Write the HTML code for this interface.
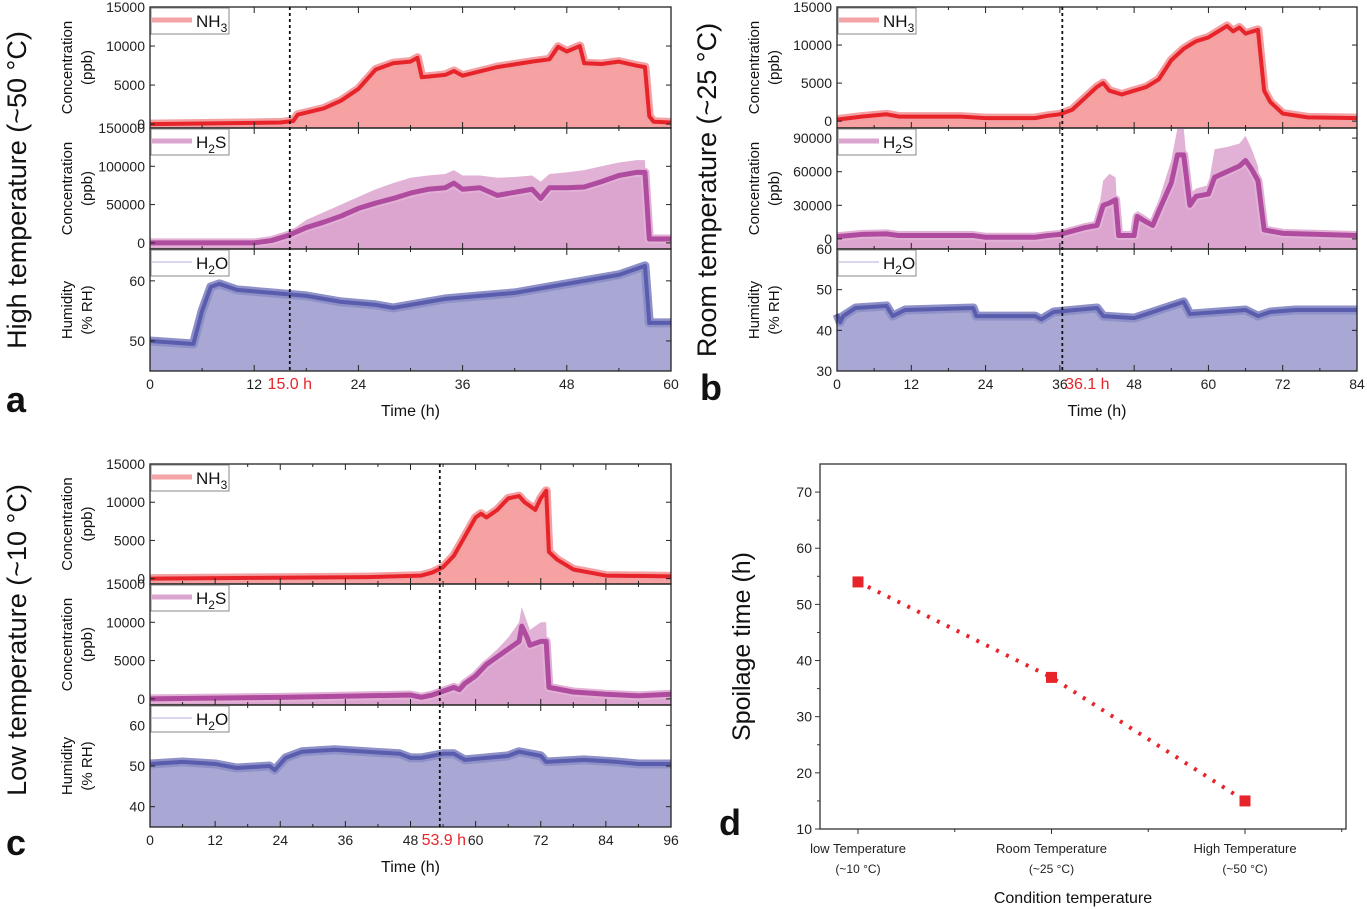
<!DOCTYPE html>
<html><head><meta charset="utf-8">
<style>
body{margin:0;background:#fff;}
svg{display:block;font-family:"Liberation Sans",sans-serif;}
</style></head>
<body>
<svg id="fig" width="1367" height="909" viewBox="0 0 1367 909" xmlns="http://www.w3.org/2000/svg"></svg>
<script>
// ---------- Panel a data (High temperature) ----------
const tA   = [0,15,16.5,17,20,22,24,26,28,30,30.8,31.3,34,35,36,40,44,46,47,48,49.5,50,52,54,56,57,57.5,58,60];
const nh3A = [0,200,400,1200,2000,3000,4500,7000,7800,8000,8500,6000,6300,6800,6200,7300,8000,8300,9900,9300,10000,7800,7700,8000,7500,7300,1000,300,200];
const tA2    = [0,12,14,16,18,20,22,24,26,28,30,32,34,35,36,38,40,42,44,45,46,48,50,52,54,56,57,57.5,60];
const h2sA   = [0,0,3000,10000,20000,27000,35000,45000,52000,58000,65000,70000,72000,78000,70000,72000,62000,66000,70000,58000,72000,72000,73000,80000,88000,92000,92000,5000,5000];
const h2sAUp = [0,0,4000,14000,30000,40000,50000,60000,70000,78000,85000,88000,90000,95000,88000,88000,85000,86000,88000,80000,90000,92000,95000,100000,105000,108000,108000,5000,5000];
const tA3  = [0,5,6,7,8,10,14,18,22,26,28,30,34,38,42,46,50,54,56,57,57.5,60];
const h2oA = [50,49.5,55,59,59.5,58.5,58,57.5,56.5,56,55.5,56,57,57.5,58,59,60,61,62,62.5,53,53];
// ---------- Panel b data (Room temperature) ----------
const tB   = [0,4,8,10,20,24,32,34,36,38,40,42,43,44,46,48,50,52,54,56,58,60,62,63,64,65,66,68,68.5,69,70,72,76,84];
const nh3B = [200,600,900,600,600,400,400,700,900,1500,3000,4500,5000,4000,3500,4000,4500,5500,8000,9500,10500,11000,12000,12500,11800,12300,11500,12000,8000,4000,2500,1000,500,400];
const tB2    = [0,4,8,10,22,24,32,34,36,38,40,42,43,44,45,45.5,48,48.5,50,51,52,54,55,56,57,58,60,61,63,65,66,67,68,69,72,84];
const h2sB   = [2000,4000,4500,3000,3000,1500,1500,3000,4000,7000,10000,12000,30000,32000,35000,3000,3000,20000,15000,12000,25000,50000,75000,75000,30000,38000,40000,55000,60000,65000,70000,62000,52000,8000,5000,3000];
const h2sBUp = [2000,4000,4500,3000,3000,1500,1500,3000,4000,8000,12000,15000,52000,58000,55000,3000,3000,25000,20000,15000,35000,70000,100000,100000,40000,45000,48000,80000,82000,85000,92000,80000,65000,8000,5000,3000];
const tB3  = [0,0.5,1,3,8,9,11,22,22.5,32,33,35,42,43,48,52,56,57,66,68,70,74,84];
const h2oB = [44,42,43.5,45.5,46,43.5,45,45.5,43.5,43.5,42.7,44.5,45.5,43.5,43,45,47,44,45,43.5,44.5,45,45];
// ---------- Panel c data (Low temperature) ----------
const tC   = [0,20,40,50,52,54,56,58,60,61,62,64,66,68,69,70,71,72,73,73.5,75,78,84,96];
const nh3C = [0,100,200,400,800,1500,3000,5500,8000,8500,8000,9000,10500,10800,10000,9500,9000,10500,11500,3500,2500,1200,400,300];
const tC2    = [0,24,48,50,52,54,56,57,58,60,62,64,66,68,68.5,69.5,70,72,73,73.5,78,84,90,96];
const h2sC   = [0,200,500,200,500,1000,1500,1200,2000,3000,4500,5500,6500,7500,9500,8000,7000,7500,7500,1500,900,600,400,600];
const h2sCUp = [0,200,500,200,500,1000,1600,1400,2300,3500,5200,6500,8000,10000,12000,10000,9000,10000,10000,1500,900,600,400,600];
const tC3  = [0,6,12,16,22,23,25,28,34,40,46,48,50,54,56,58,62,66,68,72,73,80,86,90,96];
const h2oC = [50.5,51,50.5,49.5,50,49,52,53.5,54,53.5,53,52,52,53,53,51.5,52,52.5,53.5,52.5,51,51.5,51,50.5,50.5];
// ---------- Panel d data ----------
const catD = ["low Temperature","Room Temperature","High Temperature"];
const catD2 = ["(~10 \u00B0C)","(~25 \u00B0C)","(~50 \u00B0C)"];
const spoilD = [54,37,15];
const spoilTicks = [10,20,30,40,50,60,70];
const onsetHours = [15.0,36.1,53.9];

const NS="http://www.w3.org/2000/svg";
const svg=document.getElementById('fig');
function mk(tag,attrs,parent){const e=document.createElementNS(NS,tag);for(const k in attrs)e.setAttribute(k,attrs[k]);(parent||svg).appendChild(e);return e;}
function txt(x,y,s,attrs,parent){const e=mk('text',Object.assign({x:x,y:y},attrs),parent);e.textContent=s;return e;}

function subplot(p){
  const g=mk('g',{});
  
  
  const sx=t=>p.x0+(t/p.tmax)*(p.x1-p.x0);
  const sy=v=>p.y1-(v-p.ymin)/(p.ymax-p.ymin)*(p.y1-p.y0);
  const clip=(v)=>Math.max(p.y0,Math.min(p.y1,sy(v)));
  if(p.up){
    let d='M'+sx(p.t[0])+','+p.y1;
    p.t.forEach((t,i)=>{d+=' L'+sx(t)+','+clip(p.up[i]);});
    d+=' L'+sx(p.t[p.t.length-1])+','+p.y1+'Z';
    const a=mk('path',{d:d,fill:p.band},g);
    
    
  }
  let d='M'+sx(p.t[0])+','+p.y1;
  p.t.forEach((t,i)=>{d+=' L'+sx(t)+','+clip(p.v[i]);});
  d+=' L'+sx(p.t[p.t.length-1])+','+p.y1+'Z';
  const f=mk('path',{d:d,fill:p.fill},g);
  
  
  let l='';
  p.t.forEach((t,i)=>{l+=(i?' L':'M')+sx(t)+','+clip(p.v[i]);});
  mk('path',{d:l,fill:'none',stroke:p.band,'stroke-width':9,'stroke-linejoin':'round'},g);
  const ln=mk('path',{d:l,fill:'none',stroke:p.line,'stroke-width':p.lw||4,'stroke-linejoin':'round'},g);
  
  
  mk('rect',{x:p.x0,y:p.y0,width:p.x1-p.x0,height:p.y1-p.y0,fill:'none',stroke:'#222','stroke-width':1.3},g);
  p.ticks.forEach(v=>{
    const y=sy(v);
    mk('line',{x1:p.x0,x2:p.x0+5,y1:y,y2:y,stroke:'#222'},g);
    mk('line',{x1:p.x1,x2:p.x1-5,y1:y,y2:y,stroke:'#222'},g);
    const lab=txt(p.x0-5,y+5,String(v),{'font-size':14,'text-anchor':'end',fill:'#222'},g);
    
    
  });
  for(let t=0;t<=p.tmax;t+=6){
    const x=sx(t),L=(t%12===0)?6:3;
    mk('line',{x1:x,x2:x,y1:p.y1,y2:p.y1-L,stroke:'#222'},g);
    mk('line',{x1:x,x2:x,y1:p.y0,y2:p.y0+L,stroke:'#222'},g);
  }
  const lg=mk('g',{},g);
  
  
  mk('rect',{x:p.x0+1,y:p.y0+1,width:78,height:26,fill:'#fff',stroke:'#888'},lg);
  mk('line',{x1:p.x0+2,x2:p.x0+42,y1:p.y0+13,y2:p.y0+13,stroke:p.legline,'stroke-width':p.leglw},lg);
  const lt=mk('text',{x:p.x0+46,y:p.y0+20,'font-size':17,fill:'#111'},lg);
  lt.innerHTML=p.legendHTML;
  return {sx,sy};
}

function panel(cfg){
  const x0=cfg.x0,x1=cfg.x1;
  const common={x0,x1,tmax:cfg.tmax};
  const s1=subplot(Object.assign({},common,cfg.nh3,{fill:'#f6a2a2',band:'#f3a0a3',line:'#e8242b',name:cfg.id+'-nh3-plot',legend:'nh3',legline:'#f4a3a6',leglw:5,legendHTML:'NH<tspan font-size="12" dy="5">3</tspan>'}));
  subplot(Object.assign({},common,cfg.h2s,{fill:'#dba5cf',band:'#e2b1d6',line:'#b04c9f',lw:5,name:cfg.id+'-h2s-plot',legend:'h2s',legline:'#dba5cf',leglw:5,legendHTML:'H<tspan font-size="12" dy="5">2</tspan><tspan dy="-5">S</tspan>'}));
  subplot(Object.assign({},common,cfg.h2o,{fill:'#a9a8d4',band:'#8e90c8',line:'#5a5dad',lw:4,name:cfg.id+'-h2o-plot',legend:'h2o',legline:'#c9c9ea',leglw:1.5,legendHTML:'H<tspan font-size="12" dy="5">2</tspan><tspan dy="-5">O</tspan>'}));
  const y0=cfg.nh3.y0,yb=cfg.h2o.y1;
  const vx=s1.sx(cfg.vline);
  const dl=mk('line',{x1:vx,x2:vx,y1:y0,y2:yb,stroke:'#111','stroke-width':1.8,'stroke-dasharray':'3,3'});
  
  
  for(let t=0;t<=cfg.tmax;t+=12){
    const lab=txt(s1.sx(t),yb+18,String(t),{'font-size':14,'text-anchor':'middle',fill:'#222'});
    
    
  }
  const on=txt(vx+cfg.onOff,yb+18,cfg.onText,{'font-size':16,'text-anchor':'middle',fill:'#e8242b'});
  
  
  const xt=txt((x0+x1)/2,yb+45,'Time (h)',{'font-size':16,'text-anchor':'middle',fill:'#111'});
  
  
  const yl=(yc,l1,l2,nm)=>{
    const g=mk('g',{transform:'translate('+(x0-78)+','+yc+') rotate(-90)'});
    
    
    txt(0,0,l1,{'font-size':15,'text-anchor':'middle',fill:'#111'},g);
    txt(0,20,l2,{'font-size':15,'text-anchor':'middle',fill:'#111'},g);
  };
  yl((cfg.nh3.y0+cfg.nh3.y1)/2,'Concentration','(ppb)',cfg.id+'-nh3-y-title');
  yl((cfg.h2s.y0+cfg.h2s.y1)/2,'Concentration','(ppb)',cfg.id+'-h2s-y-title');
  yl((cfg.h2o.y0+cfg.h2o.y1)/2,'Humidity','(% RH)',cfg.id+'-h2o-y-title');
  const gt=mk('g',{transform:'translate('+cfg.tx+','+cfg.ty+') rotate(-90)'});
  
  
  txt(0,0,cfg.title,{'font-size':27,'text-anchor':'middle',fill:'#111'},gt);
  const pl=txt(cfg.lx,cfg.ly,cfg.id,{'font-size':36,'font-weight':'bold',fill:'#111'});
  
  
}

panel({id:'a',x0:150,x1:671,tmax:60,vline:16.1,onText:onsetHours[0].toFixed(1)+' h',onOff:0,
  nh3:{y0:7,y1:128,ymin:-500,ymax:15000,ticks:[0,5000,10000,15000],t:tA,v:nh3A},
  h2s:{y0:128,y1:249,ymin:-8000,ymax:150000,ticks:[0,50000,100000,150000],t:tA2,v:h2sA,up:h2sAUp},
  h2o:{y0:249,y1:371,ymin:45,ymax:65.3,ticks:[50,60],t:tA3,v:h2oA},
  title:'High temperature (~50 \u00B0C)',tx:26,ty:190,lx:6,ly:412});
panel({id:'b',x0:837,x1:1357,tmax:84,vline:36.4,onText:onsetHours[1].toFixed(1)+' h',onOff:25,
  nh3:{y0:7,y1:128,ymin:-900,ymax:15000,ticks:[0,5000,10000,15000],t:tB,v:nh3B},
  h2s:{y0:128,y1:249,ymin:-9000,ymax:99000,ticks:[0,30000,60000,90000],t:tB2,v:h2sB,up:h2sBUp},
  h2o:{y0:249,y1:371,ymin:30,ymax:60,ticks:[30,40,50,60],t:tB3,v:h2oB},
  title:'Room temperature (~25 \u00B0C)',tx:716,ty:190,lx:700,ly:400});
panel({id:'c',x0:150,x1:671,tmax:96,vline:53.4,onText:onsetHours[2].toFixed(1)+' h',onOff:4,
  nh3:{y0:464,y1:584,ymin:-700,ymax:15000,ticks:[0,5000,10000,15000],t:tC,v:nh3C},
  h2s:{y0:584,y1:705,ymin:-800,ymax:15000,ticks:[0,5000,10000,15000],t:tC2,v:h2sC,up:h2sCUp},
  h2o:{y0:705,y1:827,ymin:35,ymax:65,ticks:[40,50,60],t:tC3,v:h2oC},
  title:'Low temperature (~10 \u00B0C)',tx:26,ty:640,lx:6,ly:855});

// ---------- Panel d ----------
(function(){
  const x0=820,x1=1346,y0=464,y1=829,ymin=10,ymax=75;
  const sy=v=>y1-(v-ymin)/(ymax-ymin)*(y1-y0);
  const sx=i=>858+193.5*i;
  const g=mk('g',{});
  
  
  mk('rect',{x:x0,y:y0,width:x1-x0,height:y1-y0,fill:'none',stroke:'#333','stroke-width':1.3},g);
  spoilTicks.forEach(v=>{
    const y=sy(v);
    mk('line',{x1:x0-5,x2:x0,y1:y,y2:y,stroke:'#333'},g);
    const l=txt(x0-8,y+5,String(v),{'font-size':14,'text-anchor':'end',fill:'#222'},g);
    
    
    if(v<70) mk('line',{x1:x0-3,x2:x0,y1:sy(v+5),y2:sy(v+5),stroke:'#333'},g);
  });
  for(let i=0;i<catD.length;i++){
    mk('line',{x1:sx(i),x2:sx(i),y1:y1,y2:y1+5,stroke:'#333'},g);
    mk('line',{x1:sx(i)+96.75,x2:sx(i)+96.75,y1:y1,y2:y1+3,stroke:'#333'},g);
    const a=txt(sx(i),y1+24,catD[i],{'font-size':13,'text-anchor':'middle',fill:'#222'},g);
    
    
    txt(sx(i),y1+44,catD2[i],{'font-size':12,'text-anchor':'middle',fill:'#222'},g);
  }
  let d='';
  spoilD.forEach((v,i)=>{d+=(i?' L':'M')+sx(i)+','+sy(v);});
  const ln=mk('path',{d:d,fill:'none',stroke:'#e8242b','stroke-width':4,'stroke-dasharray':'3,8'},g);
  
  
  spoilD.forEach((v,i)=>{
    const m=mk('rect',{x:sx(i)-5.5,y:sy(v)-5.5,width:11,height:11,fill:'#e8242b'},g);
    
    
  });
  const yt=mk('g',{transform:'translate(750,'+((y0+y1)/2)+') rotate(-90)'},g);
  
  
  txt(0,0,'Spoilage time (h)',{'font-size':25,'text-anchor':'middle',fill:'#111'},yt);
  const xt=txt(1073,903,'Condition temperature',{'font-size':16,'text-anchor':'middle',fill:'#111'},g);
  
  
  const pl=txt(719,835,'d',{'font-size':36,'font-weight':'bold',fill:'#111'});
  
  
})();
</script>
</body></html>
